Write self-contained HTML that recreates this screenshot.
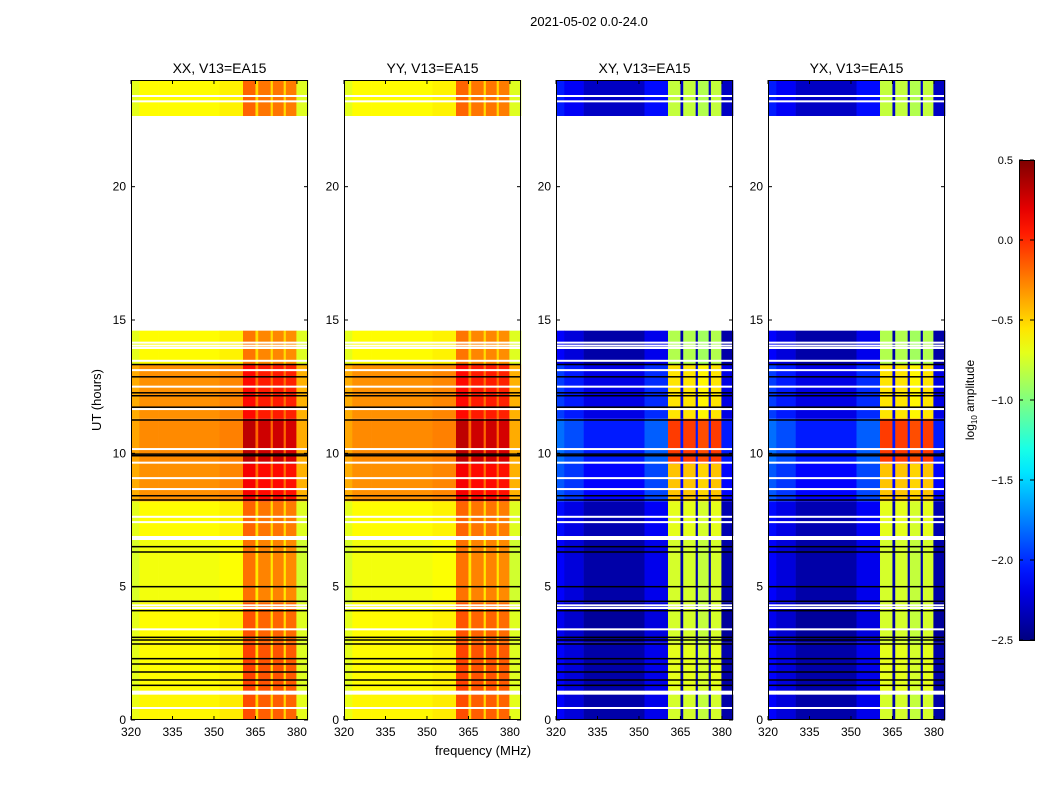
<!DOCTYPE html>
<html><head><meta charset="utf-8"><style>
body{margin:0;background:#fff;}
svg text{font-family:"Liberation Sans",sans-serif;fill:#000;}
</style></head><body>
<svg id="s" width="1050" height="800" xmlns="http://www.w3.org/2000/svg">
<text x="589" y="26" font-size="13" text-anchor="middle">2021-05-02 0.0-24.0</text>
<text x="483" y="755" font-size="13" text-anchor="middle">frequency (MHz)</text>
<text transform="translate(101,400) rotate(-90)" font-size="13" text-anchor="middle">UT (hours)</text>
</svg>
<script>
const panelTitles=["XX, V13=EA15","YY, V13=EA15","XY, V13=EA15","YX, V13=EA15"];
const panelKinds=["par","par","cross","cross"];
const xTicks=[320,335,350,365,380];
const yTicks=[0,5,10,15,20];
const cbTicks=[0.5,0.0,-0.5,-1.0,-1.5,-2.0,-2.5];
// time segments
const segStart=[0,1.1,2.9,4.4,6.9,8.2,9.6,11.3,13.33,22.65];
const segEnd=[0.95,2.9,4.4,6.75,8.2,9.6,11.3,13.33,14.6,24];
const parLevel=[-0.6,-0.62,-0.62,-0.66,-0.62,-0.3,-0.28,-0.3,-0.62,-0.62];
const parBoost=[0.45,0.5,0.45,0.4,0.4,0.4,0.55,0.35,0.35,0.4];
const crossBase=[-2.38,-2.38,-2.42,-2.38,-2.35,-2.12,-2.05,-2.2,-2.38,-2.3];
const crossSig=[-0.75,-0.7,-0.75,-0.75,-0.7,-0.45,-0.05,-0.55,-0.85,-0.8];
// frequency segments
const colStart=[320,323,330,352,360.5,365,366,370.5,371.3,375.2,376,379.8];
const colEnd=[323,330,352,360.5,365,366,370.5,371.3,375.2,376,379.8,384];
const colKind=["L","L","L","L","B","G","B","G","B","G","B","R"];
const colParOff=[-0.08,0,0,0.03,0.05,0.1,0,0.1,0,0.1,-0.02,-0.1];
const colCrossOff=[0.25,0.15,0,0.2,0,0,0,0,-0.05,0,0,0];
// flagged rows
const whiteLines=[14.15,14.04,13.95,13.47,13.12,12.5,11.66,10.16,9.65,9.07,8.66,7.62,7.42,4.3,4.2,3.4,0.45,23.2,23.4];
const blackLines=[13.33,12.87,12.27,12.16,11.73,11.25,9.97,9.91,8.41,8.25,6.3,6.5,5.0,4.45,4.1,3.1,3.0,2.85,2.3,2.1,1.8,1.5,1.3];

const NS="http://www.w3.org/2000/svg";
const svg=document.getElementById('s');
const panelX=[131,344,556,768], PW=177, PT=80, PB=720;
const vmin=-2.5,vmax=0.5;
function jet(v){let t=(v-vmin)/(vmax-vmin);t=Math.max(0,Math.min(1,t));
 const r=Math.max(0,Math.min(1,1.5-Math.abs(4*t-3))),g=Math.max(0,Math.min(1,1.5-Math.abs(4*t-2))),b=Math.max(0,Math.min(1,1.5-Math.abs(4*t-1)));
 return `rgb(${Math.round(r*255)},${Math.round(g*255)},${Math.round(b*255)})`;}
function mk(tag,attrs,parent){const e=document.createElementNS(NS,tag);for(const k in attrs)e.setAttribute(k,attrs[k]);(parent||svg).appendChild(e);return e;}
function xs(px,f){return px+(f-320)/64*PW;}
function ys(t){return PB-t/24*(PB-PT);}

panelX.forEach((px,pi)=>{
 const g=mk('g',{});
 
 
 const kind=panelKinds[pi];
 for(let s=0;s<segStart.length;s++){
  for(let c=0;c<colStart.length;c++){
   let v;
   if(kind==="par"){
    const base=parLevel[s]+colParOff[c];
    v=colKind[c]==="B"?base+parBoost[s]:base;
   }else{
    v=colKind[c]==="B"?crossSig[s]+colCrossOff[c]:crossBase[s]+colCrossOff[c];
   }
   const x0=xs(px,colStart[c]),x1=xs(px,colEnd[c]),y0=ys(segEnd[s]),y1=ys(segStart[s]);
   const r=mk('rect',{x:x0,y:y0,width:x1-x0+0.3,height:y1-y0,fill:jet(v)},g);
   
   
  }
 }
 whiteLines.forEach(t=>{const l=mk('rect',{x:px,y:ys(t)-1,width:PW,height:2,fill:'#fff'},g);
  });
 blackLines.forEach(t=>{const l=mk('rect',{x:px,y:ys(t)-0.75,width:PW,height:1.5,fill:'#000'},g);
  });
 const fr=mk('rect',{x:px+0.5,y:PT+0.5,width:PW-1,height:PB-PT-1,fill:'none',stroke:'#000','stroke-width':1});
 
 const tt=mk('text',{x:px+PW/2,y:73,'font-size':14,'text-anchor':'middle'});tt.textContent=panelTitles[pi];
 
 xTicks.forEach(f=>{const x=xs(px,f);
  mk('line',{x1:x,x2:x,y1:PB,y2:PB-4,stroke:'#000'});mk('line',{x1:x,x2:x,y1:PT,y2:PT+4,stroke:'#000'});
  const t=mk('text',{x:x,y:PB+16,'font-size':12,'text-anchor':'middle'});t.textContent=f;
  });
 yTicks.forEach(h=>{const y=ys(h);
  mk('line',{x1:px,x2:px+4,y1:y,y2:y,stroke:'#000'});mk('line',{x1:px+PW,x2:px+PW-4,y1:y,y2:y,stroke:'#000'});
  const t=mk('text',{x:px-5,y:y+4,'font-size':12,'text-anchor':'end'});t.textContent=h;
  });
});
// colorbar
const defs=mk('defs',{});const grad=mk('linearGradient',{id:'cg',x1:0,y1:1,x2:0,y2:0},defs);
for(let i=0;i<=20;i++){mk('stop',{offset:i/20,'stop-color':jet(vmin+(vmax-vmin)*i/20)},grad);}
const cb=mk('rect',{x:1019.5,y:160.5,width:15,height:480,fill:'url(#cg)',stroke:'#000'});

cbTicks.forEach(v=>{const y=160+(vmax-v)/(vmax-vmin)*480;
 mk('line',{x1:1019,x2:1023,y1:y,y2:y,stroke:'#000'});mk('line',{x1:1034,x2:1030,y1:y,y2:y,stroke:'#000'});
 const t=mk('text',{x:1013,y:y+4,'font-size':11,'text-anchor':'end'});t.textContent=(v<0?'\u2212':'')+Math.abs(v).toFixed(1);
 });
const cl=mk('text',{transform:'translate(974,400) rotate(-90)','font-size':12,'text-anchor':'middle'});
cl.innerHTML='log<tspan font-size="8" dy="3">10</tspan><tspan dy="-3"> amplitude</tspan>';

</script>
</body></html>
